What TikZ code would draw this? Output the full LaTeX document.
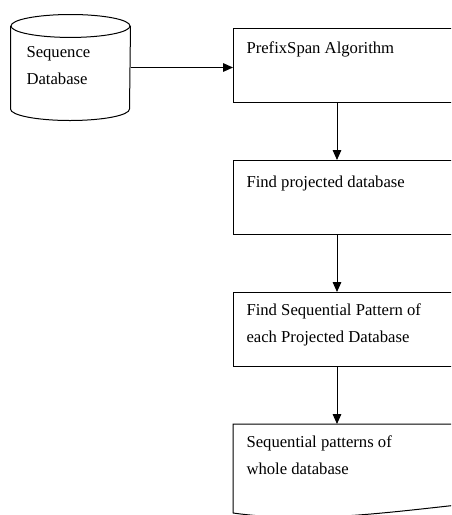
\documentclass[tikz,border=0pt]{standalone}
\usepackage{fontspec}
\setmainfont{Liberation Serif}
\usetikzlibrary{positioning,arrows.meta}
\tikzset{%
  stepbox/.style={
    draw,
    rectangle,
    anchor=north west,
    minimum width=215pt,
    minimum height=55.5pt,
    inner sep=0pt
  },
  steptext/.style={
    align=left,
    inner sep=0pt,
    font=\fontsize{12.5}{20}\selectfont
  },
  database/.style={
    rectangle,
    minimum width=89.25pt,
    minimum height=78.75pt
  },
}

\begin{document}
\begin{tikzpicture}[x=0.75pt, y=-0.75pt, line width=0.75pt, >={Triangle[length=7.5pt,width=6.5pt]}]

    \useasboundingbox (0,0) rectangle (451,515);
    \clip (0,0) rectangle (451,515);

    % input store, drawn as a drum
    \node [database] (seqdb) at (70.5,67.5) {};
    \draw ([yshift=-8.6pt]seqdb.north west) -- ([yshift=8.6pt]seqdb.south west)
        arc [start angle=180, end angle=360, x radius=44.625pt, y radius=8.6pt]
        -- ([yshift=-8.6pt]seqdb.north east);
    \draw ([yshift=-8.6pt]seqdb.north) ellipse [x radius=44.625pt, y radius=8.6pt];
    \node [steptext, anchor=north west] (seqdb-text) at ([shift={(-44.5,-21.5)}]seqdb.center)
        {Sequence\\Database};

    % processing steps
    \foreach \n/\y/\d/\t in {prefix/28/10.2/{PrefixSpan Algorithm},
                             find/160/11.5/{Find projected database},
                             mine/292/8.7/{Find Sequential Pattern of\\each Projected Database}}
    {
        \node [stepbox] (\n) at (233,\y) {};
        \node [steptext, below right=\d pt and 9.75pt of \n.north west] (\n-text) {\t};
    }

    % output document
    \node [stepbox, draw=none, minimum height=66pt] (result) at (233,424) {};
    \draw (result.south west) -- (result.north west) -- (result.north east)
        -- ([yshift=11pt]result.south east)
        .. controls ([shift={(-120,-3)}]result.south east) and ([shift={(87,12)}]result.south west)
        .. (result.south west);
    \node [steptext, below right=8.7pt and 9.75pt of result.north west] (result-text)
        {Sequential patterns of\\whole database};

    \coordinate (spine) at (337,0);

    \draw [->] (seqdb.east) -- (seqdb.east -| prefix.west);
    \draw [->] (prefix.south -| spine) -- (find.north -| spine);
    \draw [->] (find.south -| spine) -- (mine.north -| spine);
    \draw [->] (mine.south -| spine) -- (result.north -| spine);

\end{tikzpicture}
\end{document}
